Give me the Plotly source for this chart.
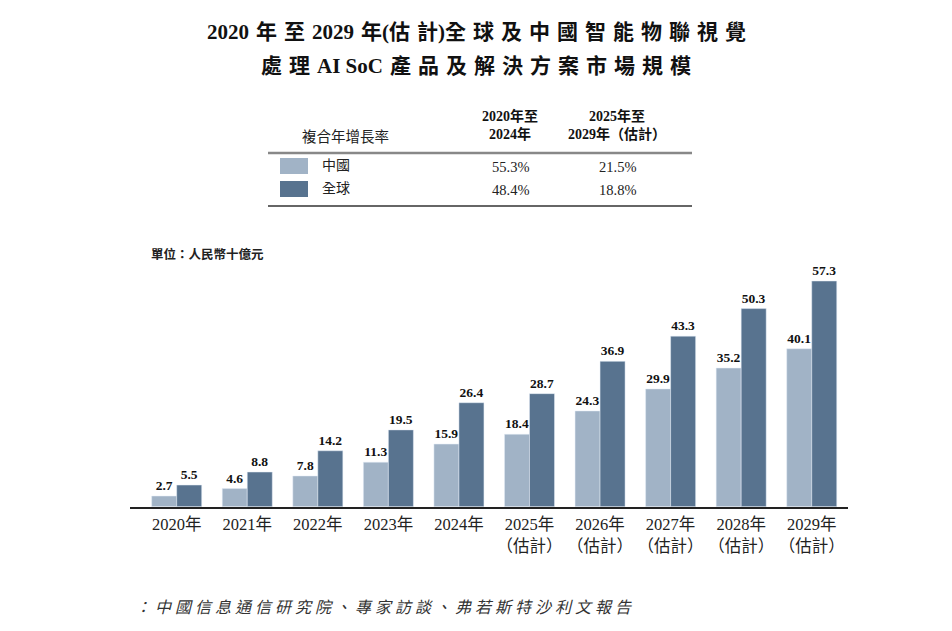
import plotly.graph_objects as go

OX, OY = 8, 8
W, H = 952 - 2 * OX, 631 - 2 * OY

years = ["2020年", "2021年", "2022年", "2023年", "2024年",
         "2025年<br>（估計）", "2026年<br>（估計）", "2027年<br>（估計）",
         "2028年<br>（估計）", "2029年<br>（估計）"]
china = [2.7, 4.6, 7.8, 11.3, 15.9, 18.4, 24.3, 29.9, 35.2, 40.1]
world = [5.5, 8.8, 14.2, 19.5, 26.4, 28.7, 36.9, 43.3, 50.3, 57.3]

cagr_header = "複合年增長率"
cagr_cols = ["2020年至<br>2024年", "2025年至<br>2029年（估計）"]
cagr_china = ["55.3%", "21.5%"]
cagr_world = ["48.4%", "18.8%"]

C_CHINA = "#A1B3C6"
C_WORLD = "#58738F"

SERIF = "Liberation Serif, Noto Sans CJK TC, serif"
SANS = "Noto Sans CJK TC, sans-serif"


def px(x):
    return (x - OX) / W


def py(y):
    return 1 - (y - OY) / H


def spaced(s, sp="\u2009"):
    return sp.join(list(s))


xs = list(range(len(years)))

fig = go.Figure()
fig.add_trace(go.Bar(x=xs, y=china, marker_color=C_CHINA, name="中國",
                     texttemplate="<b>%{y:.1f}</b>", textposition="outside",
                     textfont=dict(family=SERIF, size=13.5, color="#111"),
                     cliponaxis=False))
fig.add_trace(go.Bar(x=xs, y=world, marker_color=C_WORLD, name="全球",
                     texttemplate="<b>%{y:.1f}</b>", textposition="outside",
                     textfont=dict(family=SERIF, size=13.5, color="#111"),
                     cliponaxis=False))

x0, x1 = 130, 848.3
c0, step = 176.7, 70.56
base, top = 506.7, 260
ppu = (506.7 - 281) / 57.3

fig.update_layout(
    width=W, height=H,
    margin=dict(l=0, r=0, t=0, b=0),
    paper_bgcolor="white", plot_bgcolor="white",
    barmode="group", bargap=0.291, bargroupgap=0,
    showlegend=False,
    xaxis=dict(domain=[px(x0), px(x1)],
               range=[(x0 - c0) / step, (x1 - c0) / step],
               tickmode="array", tickvals=xs, ticktext=years,
               tickfont=dict(family=SERIF, size=16.5, color="#222"),
               showline=True, linecolor="#222", linewidth=1.5,
               showgrid=False, zeroline=False, ticks="",
               ticklabelstandoff=2),
    yaxis=dict(domain=[py(base), py(top)],
               range=[0, (base - top) / ppu],
               visible=False, showgrid=False, zeroline=False),
)

ann = []
# Title
SP = "\u2004"
t1 = "2020" + SP + spaced("年至", SP) + SP + "2029" + SP + "年" + "(" + spaced("估計", SP) + ")" + spaced("全球及中國智能物聯視覺", SP)
t2 = spaced("處理", SP) + SP + "AI SoC" + SP + spaced("產品及解決方案市場規模", SP)
ann.append(dict(x=px(476), y=py(32), text="<b>" + t1 + "</b>", showarrow=False,
                font=dict(family=SERIF, size=21, color="#111"),
                xref="paper", yref="paper", xanchor="center", yanchor="middle"))
ann.append(dict(x=px(476), y=py(66), text="<b>" + t2 + "</b>", showarrow=False,
                font=dict(family=SERIF, size=21, color="#111"),
                xref="paper", yref="paper", xanchor="center", yanchor="middle"))

# Table
ann.append(dict(x=px(300), y=py(135), text=cagr_header, showarrow=False,
                font=dict(family=SANS, size=14.5, color="#222"),
                xref="paper", yref="paper", xanchor="left", yanchor="middle"))
for cx, t in zip([510, 617], cagr_cols):
    ann.append(dict(x=px(cx), y=py(125), text="<b>" + t + "</b>", showarrow=False,
                    font=dict(family=SERIF, size=14, color="#111"),
                    xref="paper", yref="paper", xanchor="center", yanchor="middle"))
rows = [("中國", C_CHINA, cagr_china, 166), ("全球", C_WORLD, cagr_world, 189)]
shapes = []
for name, col, vals, ry in rows:
    shapes.append(dict(type="rect", xref="paper", yref="paper",
                       x0=px(280), x1=px(308), y0=py(ry - 8), y1=py(ry + 8),
                       fillcolor=col, line=dict(width=0)))
    ann.append(dict(x=px(320), y=py(ry - 2), text=name, showarrow=False,
                    font=dict(family=SANS, size=14, color="#222"),
                    xref="paper", yref="paper", xanchor="left", yanchor="middle"))
    for cx, v in zip([510, 617], vals):
        ann.append(dict(x=px(cx), y=py(ry + 1), text=v, showarrow=False,
                        font=dict(family=SERIF, size=14.5, color="#222"),
                        xref="paper", yref="paper", xanchor="center", yanchor="middle"))
shapes.append(dict(type="line", xref="paper", yref="paper",
                   x0=px(268), x1=px(692), y0=py(153), y1=py(153),
                   line=dict(color="#888", width=2.5)))
shapes.append(dict(type="line", xref="paper", yref="paper",
                   x0=px(268), x1=px(692), y0=py(206), y1=py(206),
                   line=dict(color="#333", width=1.5)))

# Unit label
ann.append(dict(x=px(149), y=py(253), text="<b>單位：人民幣十億元</b>", showarrow=False,
                font=dict(family=SANS, size=12.5, color="#222"),
                xref="paper", yref="paper", xanchor="left", yanchor="middle"))

# Source
src = "：中國信息通信研究院、專家訪談、弗若斯特沙利文報告"
ann.append(dict(x=px(133), y=py(606), text="<i>" + spaced(src, "\u2005") + "</i>", showarrow=False,
                font=dict(family=SANS, size=16, color="#333"),
                xref="paper", yref="paper", xanchor="left", yanchor="middle"))

fig.update_layout(annotations=ann, shapes=shapes)
fig.write_html("out.html")
